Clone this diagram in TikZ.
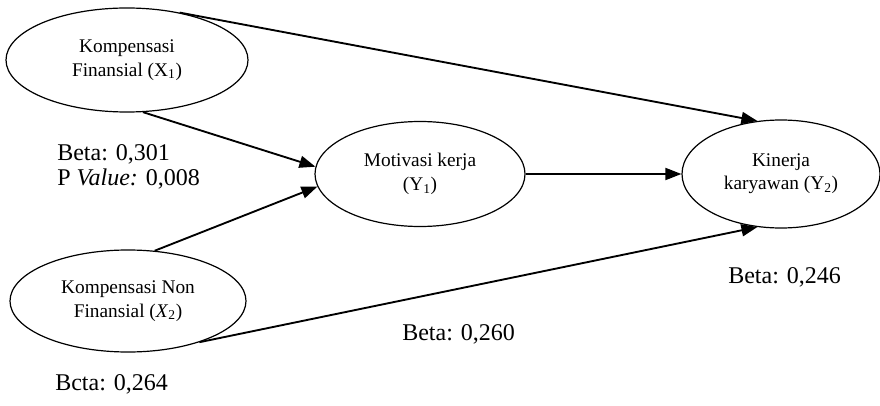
\documentclass[tikz,border=0pt]{standalone}
\usepackage{fontspec}
\setmainfont{Liberation Serif}
\usetikzlibrary{shapes.geometric,arrows.meta}
\tikzset{
  latent/.style={draw, ellipse, line width=0.9pt, inner sep=0pt, align=center,
    font=\fontsize{14.5}{17.5}\selectfont},
  link/.style={line width=1.4pt, -{Triangle[length=12pt,width=9pt]}},
  coef/.style={anchor=base west, inner sep=0pt, font=\fontsize{18}{22}\selectfont}
}

\begin{document}
\begin{tikzpicture}[x=0.75pt, y=-0.75pt]
            \useasboundingbox (0,0) rectangle (880,406);
            \node[latent, minimum width=181.5pt, minimum height=78pt] (fin) at (127,60)
              {Kompensasi\\Finansial (X\textsubscript{1})};
            \node[latent, minimum width=177pt, minimum height=76.5pt] (nonfin) at (128,301)
              {Kompensasi Non\\Finansial (\textit{X}\textsubscript{2})};
            \node[latent, minimum width=157.5pt, minimum height=78.75pt] (mot) at (420,174)
              {Motivasi kerja\\(Y\textsubscript{1})};
            \node[latent, minimum width=148.5pt, minimum height=81pt] (kin) at (781,174)
              {Kinerja\\karyawan (Y\textsubscript{2})};

            \draw[link] (fin.42) -- (kin.114);
            \draw[link] (fin.-73) -- (mot.176);
            \draw[link] (nonfin.62) -- (mot.187);
            \draw[link] (mot.east) -- (kin.west);
            \draw[link] (nonfin.-30) -- (kin.246);

            \node[coef] (beta1) at (57,160) {Beta: 0,301};
            \node[coef] (pval1) at (57,185) {P \textit{Value:} 0,008};
            \node[coef] (beta2) at (55,390) {Bcta: 0,264};
            \node[coef] (beta3) at (402,340) {Beta: 0,260};
            \node[coef] (beta4) at (728,283) {Beta: 0,246};
\end{tikzpicture}
\end{document}
